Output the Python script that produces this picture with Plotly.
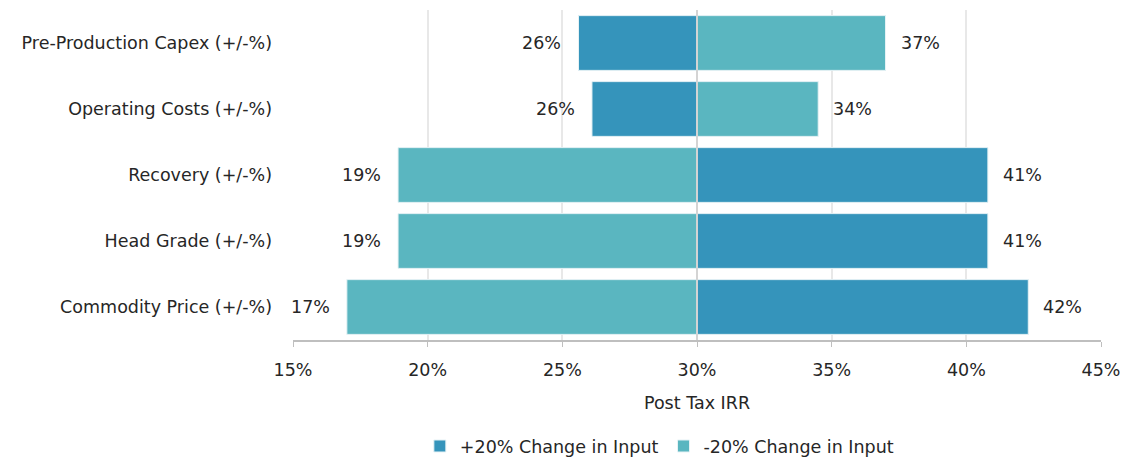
import plotly.graph_objects as go

# Tornado chart: post tax IRR sensitivity, base case 30%
base_irr = 30.0
categories = [
    "Pre-Production Capex (+/-%)",
    "Operating Costs (+/-%)",
    "Recovery (+/-%)",
    "Head Grade (+/-%)",
    "Commodity Price (+/-%)",
]
irr_plus20 = [25.6, 26.1, 40.8, 40.8, 42.3]
irr_minus20 = [37.0, 34.5, 18.9, 18.9, 17.0]
x_ticks = [15, 20, 25, 30, 35, 40, 45]

DARK = "#3594bb"
LIGHT = "#5ab6c0"
FONT = "'DejaVu Sans', sans-serif"
FS = 17.5

fig = go.Figure()
for name, vals, color in [
    ("+20% Change in Input", irr_plus20, DARK),
    ("-20% Change in Input", irr_minus20, LIGHT),
]:
    fig.add_trace(go.Bar(
        y=categories,
        x=[v - base_irr for v in vals],
        base=base_irr,
        orientation="h",
        name=name,
        marker=dict(color=color, line=dict(color="#e6f2f5", width=1)),
    ))

# value labels just outside bar ends
for vals in (irr_plus20, irr_minus20):
    for cat, v in zip(categories, vals):
        right = v > base_irr
        fig.add_annotation(
            x=v, y=cat, text=f"{v:.0f}%", showarrow=False,
            xanchor="left" if right else "right",
            xshift=13 if right else -15,
            font=dict(size=FS, color="#262626", family=FONT),
        )

fig.add_shape(type="line", x0=base_irr, x1=base_irr, y0=0, y1=1, yref="paper",
              line=dict(color="#d4d4d4", width=2), layer="above")

# page body has an 8px margin, so the figure is shifted to match
fig.update_layout(
    width=1120, height=453,
    margin=dict(l=285, r=27, t=2, b=121, autoexpand=False),
    plot_bgcolor="white", paper_bgcolor="white",
    barmode="overlay", bargap=0.17,
    font=dict(family=FONT, size=FS, color="#262626"),
    showlegend=True,
    legend=dict(orientation="h", x=0.157, xanchor="left", y=-0.267, yanchor="top",
                font=dict(size=FS), traceorder="normal"),
    xaxis=dict(
        range=[15, 45], tickvals=x_ticks, ticktext=[f"{t}%" for t in x_ticks],
        showgrid=True, gridcolor="#e8e8e8", gridwidth=1.5,
        showline=True, linecolor="#bfbfbf", linewidth=1.5,
        ticks="outside", ticklen=5, tickcolor="#bfbfbf",
        ticklabelstandoff=8, ticklabeloverflow="allow",
        zeroline=False,
        title=dict(text="Post Tax IRR", standoff=18, font=dict(size=FS)),
    ),
    yaxis=dict(autorange="reversed", showgrid=False, ticks="",
               ticklabelstandoff=20),
)

fig.write_html("out.html")
